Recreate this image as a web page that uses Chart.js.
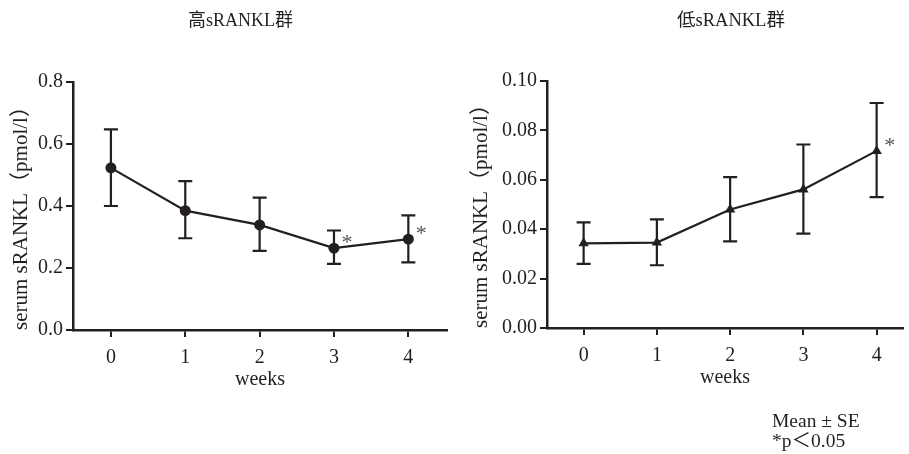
<!DOCTYPE html>
<html>
<head>
<meta charset="utf-8">
<script src="https://cdn.jsdelivr.net/npm/chart.js@4.4.1/dist/chart.umd.min.js"></script>
<style>
  body { margin: 0; background: #fff; }
  #wrap { position: relative; width: 909px; height: 454px; overflow: hidden; }
  .box { position: absolute; top: 0; height: 454px; }
  .txt { position: absolute; font-family: "Liberation Serif", "Noto Sans CJK JP", serif; color: #231f20; white-space: nowrap; }
</style>
</head>
<body>
<div id="wrap">
  <div class="box" style="left:0;width:455px"><canvas id="chartHigh"></canvas></div>
  <div class="box" style="left:455px;width:454px"><canvas id="chartLow"></canvas></div>
  <div class="txt" style="left:188px;top:5px;font-size:18px">高sRANKL群</div>
  <div class="txt" style="left:677px;top:5px;font-size:18.5px">低sRANKL群</div>
  <div class="txt" style="left:772px;top:411px;font-size:19.5px;line-height:20px">Mean ± SE<br>*p＜0.05</div>
</div>
<script>
// =====================
// DATA
// =====================
const weeks = [0, 1, 2, 3, 4];

const highMean  = [0.523, 0.385, 0.339, 0.264, 0.293];
const highUpper = [0.647, 0.480, 0.427, 0.321, 0.370];
const highLower = [0.400, 0.296, 0.255, 0.213, 0.218];
const highSig   = [false, false, false, true, true];
const highYTicks = [0, 0.2, 0.4, 0.6, 0.8];

const lowMean  = [0.0343, 0.0346, 0.0480, 0.0561, 0.0717];
const lowUpper = [0.0428, 0.0440, 0.0611, 0.0743, 0.0911];
const lowLower = [0.0260, 0.0254, 0.0351, 0.0382, 0.0530];
const lowSig   = [false, false, false, false, true];
const lowYTicks = [0, 0.02, 0.04, 0.06, 0.08, 0.10];

const INK = "#231f20";
const SERIF = "'Liberation Serif', 'Noto Sans CJK JP', serif";
const yTitle = "serum sRANKL（pmol/l）";

// =====================
// ERROR BARS + ASTERISKS
// =====================
const errorBarPlugin = {
  id: "errorBars",
  beforeDatasetsDraw(chart, args, opts) {
    const { ctx } = chart;
    const x = chart.scales.x, y = chart.scales.y;
    ctx.save();
    ctx.strokeStyle = INK;
    ctx.lineWidth = 2.2;
    weeks.forEach((w, i) => {
      const px = x.getPixelForValue(w);
      const top = y.getPixelForValue(opts.upper[i]);
      const bot = y.getPixelForValue(opts.lower[i]);
      ctx.beginPath();
      ctx.moveTo(px, top); ctx.lineTo(px, bot);
      ctx.moveTo(px - 7, top); ctx.lineTo(px + 7, top);
      ctx.moveTo(px - 7, bot); ctx.lineTo(px + 7, bot);
      ctx.stroke();
    });
    ctx.restore();
  },
  afterDatasetsDraw(chart, args, opts) {
    const { ctx } = chart;
    const x = chart.scales.x, y = chart.scales.y;
    ctx.save();
    ctx.fillStyle = "#555";
    ctx.font = "22px " + SERIF;
    ctx.textAlign = "center";
    ctx.textBaseline = "middle";
    weeks.forEach((w, i) => {
      if (!opts.sig[i]) return;
      ctx.fillText("*", x.getPixelForValue(w) + 13, y.getPixelForValue(opts.mean[i]) - 5);
    });
    ctx.restore();
  }
};

// =====================
// CHART BUILDER
// =====================
function buildChart(id, mean, upper, lower, sig, yTicks, digits, pointStyle, cfg) {
  return new Chart(document.getElementById(id), {
    type: "line",
    data: {
      datasets: [{
        data: weeks.map((w, i) => ({ x: w, y: mean[i] })),
        borderColor: INK,
        borderWidth: 2.2,
        backgroundColor: INK,
        pointStyle,
        pointRadius: pointStyle === "triangle" ? 6 : 5.5,
        pointBorderWidth: 0,
        tension: 0
      }]
    },
    options: {
      responsive: false,
      animation: false,
      layout: { padding: cfg.padding },
      plugins: {
        legend: { display: false },
        tooltip: { enabled: false },
        errorBars: { upper, lower, sig, mean }
      },
      scales: {
        x: {
          type: "linear",
          min: cfg.xMin,
          max: cfg.xMax,
          afterBuildTicks: s => { s.ticks = weeks.map(v => ({ value: v })); },
          afterFit: s => { s.height = 66; },
          border: { color: INK, width: 2.5 },
          grid: { drawOnChartArea: false, color: INK, tickColor: INK, tickLength: 7, lineWidth: 2 },
          ticks: { color: INK, font: { family: SERIF, size: 20 }, padding: 9, callback: v => String(v) },
          title: { display: true, text: "weeks", color: INK, font: { family: SERIF, size: 20 }, padding: { top: 0, bottom: 4 } }
        },
        y: {
          min: yTicks[0],
          max: yTicks[yTicks.length - 1],
          afterBuildTicks: s => { s.ticks = yTicks.map(v => ({ value: v })); },
          afterFit: s => { s.width = cfg.yWidth; },
          border: { color: INK, width: 2.5 },
          grid: { drawOnChartArea: false, color: INK, tickColor: INK, tickLength: 7, lineWidth: 2 },
          ticks: { color: INK, font: { family: SERIF, size: 20 }, padding: 3, callback: v => Number(v).toFixed(digits) },
          title: { display: true, text: yTitle, align: "start", color: INK, font: { family: SERIF, size: 21 }, padding: { top: 4, bottom: 0 } }
        }
      }
    },
    plugins: [errorBarPlugin]
  });
}

const c1 = document.getElementById("chartHigh");
c1.width = 455; c1.height = 454;
const c2 = document.getElementById("chartLow");
c2.width = 454; c2.height = 454;

buildChart("chartHigh", highMean, highUpper, highLower, highSig, highYTicks, 1, "circle",
  { padding: { left: 5, right: 8, top: 82, bottom: 58 }, yWidth: 68, xMin: -0.51, xMax: 4.52 });

buildChart("chartLow", lowMean, lowUpper, lowLower, lowSig, lowYTicks, 2, "triangle",
  { padding: { left: 10, right: 0, top: 81, bottom: 60 }, yWidth: 82, xMin: -0.5, xMax: 4.36 });
</script>
</body>
</html>
